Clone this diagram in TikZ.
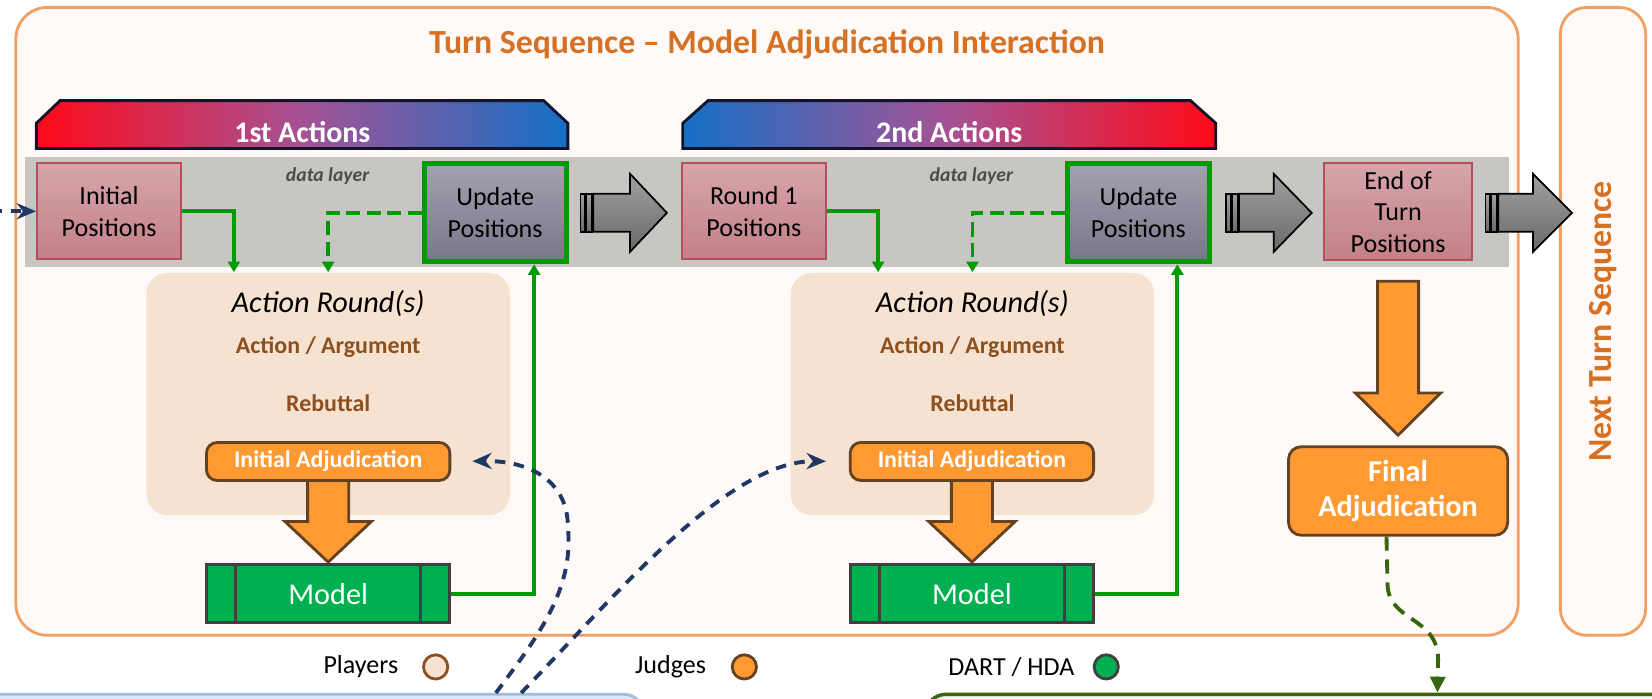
\documentclass[tikz,border=0pt]{standalone}
\usepackage{fontspec}
\setmainfont{Carlito}
\usepackage{tikz}
\usetikzlibrary{shapes,arrows,positioning,calc,arrows.meta}

\newlength{\px}
\setlength{\px}{0.010536cm}

\definecolor{frameorange}{RGB}{240,160,100}
\definecolor{framefill}{RGB}{255,250,247}
\definecolor{titleorange}{RGB}{214,112,34}
\definecolor{layergray}{RGB}{200,198,194}
\definecolor{posborder}{RGB}{184,78,92}
\definecolor{postop}{RGB}{214,165,170}
\definecolor{posbot}{RGB}{195,128,136}
\definecolor{updtop}{RGB}{163,160,175}
\definecolor{updbot}{RGB}{122,118,138}
\definecolor{linegreen}{RGB}{0,155,0}
\definecolor{modelgreen}{RGB}{0,176,80}
\definecolor{judgeorange}{RGB}{255,154,51}
\definecolor{judgeborder}{RGB}{98,66,32}
\definecolor{playerfill}{RGB}{246,226,209}
\definecolor{playerbrown}{RGB}{140,80,30}
\definecolor{hintnavy}{RGB}{31,56,100}
\definecolor{handgreen}{RGB}{56,102,14}
\definecolor{bannerred}{RGB}{255,10,25}
\definecolor{bannerblue}{RGB}{20,112,198}
\definecolor{bannermid}{RGB}{165,82,148}
\definecolor{bannerline}{RGB}{20,20,40}
\definecolor{arrowtop}{RGB}{160,160,160}
\definecolor{arrowbot}{RGB}{105,105,105}
\definecolor{lowbluefill}{RGB}{218,230,244}
\definecolor{lowblueline}{RGB}{160,190,225}
\definecolor{lowgreenfill}{RGB}{240,246,234}

\begin{document}
\begin{tikzpicture}[x=\px, y=-\px,
    turnframe/.style={draw=frameorange, line width=0.8pt, fill=framefill, rounded corners=9pt, inner sep=0pt},
    heading/.style={text=titleorange, font=\bfseries\fontsize{9.6}{11.5}\selectfont},
    banner/.style={draw=bannerline, line width=0.8pt},
    bannertext/.style={text=white, font=\bfseries\fontsize{8.5}{10}\selectfont},
    datalayer/.style={fill=layergray, minimum width=1408\px, minimum height=104\px, inner sep=0pt},
    layertext/.style={text=black!70, font=\bfseries\itshape\fontsize{5.6}{6.5}\selectfont},
    posbox/.style={draw=posborder, line width=0.5pt, top color=postop, bottom color=posbot, minimum width=137\px, minimum height=91\px, inner sep=0pt, align=center, font=\fontsize{7.4}{9}\selectfont},
    updbox/.style={draw=linegreen, line width=1.4pt, top color=updtop, bottom color=updbot, minimum width=135\px, minimum height=93\px, inner sep=0pt, align=center, font=\fontsize{7.4}{9}\selectfont},
    blockarrow/.style={draw=black, line width=0.5pt, top color=arrowtop, bottom color=arrowbot},
    roundbox/.style={fill=playerfill, rounded corners=6pt, minimum width=345\px, minimum height=230\px, inner sep=0pt},
    roundtitle/.style={font=\itshape\fontsize{8.6}{10}\selectfont},
    playertext/.style={text=playerbrown, font=\bfseries\fontsize{6.8}{8}\selectfont},
    judgebox/.style={draw=judgeborder, line width=0.8pt, fill=judgeorange, rounded corners=3pt, text=white, font=\bfseries\fontsize{6.8}{8}\selectfont, minimum width=231\px, minimum height=36\px, inner sep=0pt},
    judgearrow/.style={draw=judgeborder, line width=0.8pt, fill=judgeorange},
    modelbox/.style={draw=black!75, line width=0.8pt, fill=modelgreen, text=white, font=\fontsize{8.6}{10}\selectfont, minimum width=231\px, minimum height=55\px, inner sep=0pt},
    modelline/.style={draw=black!75, line width=0.8pt},
    feed/.style={draw=linegreen, line width=1.1pt, -{Triangle[length=3pt,width=3.4pt]}},
    feedback/.style={feed, dash pattern=on 4pt off 1.8pt},
    hint/.style={draw=hintnavy, line width=1.1pt, dash pattern=on 3pt off 2.4pt, -{Stealth[length=5.5pt,width=4.6pt]}},
    handoff/.style={draw=handgreen, line width=1.1pt, dash pattern=on 4pt off 2.5pt, -{Triangle[length=4.5pt,width=4.2pt]}},
    keytext/.style={font=\fontsize{7.4}{9}\selectfont},
    keydot/.style={circle, minimum size=23\px, inner sep=0pt, line width=0.8pt}
  ]
    \useasboundingbox[fill=white] (0,0) rectangle (1568,663);
    \clip (0,0) rectangle (1568,663);

    % frames
    \node[turnframe, minimum width=1426\px, minimum height=596\px] (turn) at (728,305) {};
    \node[turnframe, heading, rounded corners=7.5pt, rotate=90, minimum width=596\px, minimum height=81\px] (next) at (1521.5,305) {Next Turn Sequence};
    \node[heading] (title) at (728,42) {Turn Sequence -- Model Adjudication Interaction};

    % partly shown boxes below
    \node[draw=lowblueline, fill=lowbluefill, line width=0.8pt, rounded corners=6pt, minimum width=632\px, minimum height=82\px] (lowleft) at (296,700) {};
    \node[draw=handgreen, fill=lowgreenfill, line width=1pt, rounded corners=6pt, minimum width=724\px, minimum height=82\px] (lowright) at (1240,700) {};

    % banners
    \draw[banner, left color=bannerred, right color=bannerblue, middle color=bannermid]
      (34.5,141) -- (34.5,117) -- (57,95.5) -- (516,95.5) -- (539,117) -- (539,141) -- cycle;
    \draw[banner, left color=bannerblue, right color=bannerred, middle color=bannermid]
      (648,141) -- (648,117) -- (672,95.5) -- (1130,95.5) -- (1154,117) -- (1154,141) -- cycle;
    \node[bannertext] (first) at (287,125) {1st Actions};
    \node[bannertext] (second) at (901,125) {2nd Actions};

    % data layer
    \node[datalayer] (band) at (728,201) {};
    \node[layertext] (layer1) at (311,167) {data layer};
    \node[layertext] (layer2) at (922,167) {data layer};

    \node[posbox] (ipos) at (103.5,200.5) {Initial\\Positions};
    \node[updbox] (upd1) at (470,202) {Update\\Positions};
    \node[posbox] (r1pos) at (715.5,200.5) {Round 1\\Positions};
    \node[updbox] (upd2) at (1080.5,202) {Update\\Positions};
    \node[posbox, minimum width=140\px, minimum height=92\px] (eot) at (1327,201) {End of\\Turn\\Positions};

    \foreach \t/\h/\p in {551/598/633, 1164/1209/1245, 1410/1455/1492}{
      \draw[blockarrow] (\t,184) rectangle ++(4,36);
      \draw[blockarrow] (\t+5,184) rectangle ++(6,36);
      \draw[blockarrow] (\t+12,184) -- (\h,184) -- (\h,165) -- (\p,202) -- (\h,239) -- (\h,220) -- (\t+12,220) -- cycle;
    }

    % action rounds
    \node[roundbox] (act1) at (311.5,374) {};
    \node[roundbox] (act2) at (923,374) {};
    \node[roundtitle] (rt1) at (311.5,288) {Action Round(s)};
    \node[roundtitle] (rt2) at (923,288) {Action Round(s)};
    \node[playertext] (arg1) at (311.5,329) {Action / Argument};
    \node[playertext] (arg2) at (923,329) {Action / Argument};
    \node[playertext] (reb1) at (311.5,383) {Rebuttal};
    \node[playertext] (reb2) at (923,383) {Rebuttal};
    \node[judgebox] (ia1) at (311.5,438) {Initial Adjudication};
    \node[judgebox] (ia2) at (922.5,438) {Initial Adjudication};

    \foreach \c in {311.5, 922.5}{
      \draw[judgearrow] (\c-19.5,456) -- (\c+19.5,456) -- (\c+19.5,495) -- (\c+41,495) -- (\c,533.5) -- (\c-41,495) -- (\c-19.5,495) -- cycle;
    }

    \node[modelbox] (model1) at (311.5,563.5) {Model};
    \node[modelbox] (model2) at (922.5,563.5) {Model};
    \foreach \m in {model1, model2}{
      \draw[modelline] ($(\m.north west)+(29,0)$) -- ($(\m.south west)+(29,0)$);
      \draw[modelline] ($(\m.north east)+(-29,0)$) -- ($(\m.south east)+(-29,0)$);
    }

    % end of turn
    \draw[judgearrow] (1307.5,267) -- (1346.5,267) -- (1346.5,373) -- (1367.5,373) -- (1327,413) -- (1286.5,373) -- (1307.5,373) -- cycle;
    \node[judgebox, minimum width=208\px, minimum height=84\px, rounded corners=3.6pt, align=center, font=\bfseries\fontsize{8.6}{9.8}\selectfont] (final) at (1327,466) {Final\\Adjudication};

    % green connectors
    \draw[feed] (ipos.east) -| ($(act1.north)+(-89.5,0)$);
    \draw[feedback] (upd1.west) -| (act1.north);
    \draw[feed] (model1.east) -| ($(upd1.south)+(37,0)$);
    \draw[feed] (r1pos.east) -| ($(act2.north)+(-89.5,0)$);
    \draw[feedback] (upd2.west) -| (act2.north);
    \draw[feed] (model2.east) -| ($(upd2.south)+(37,0)$);

    % dashed hand-overs
    \coordinate (offleft) at (-8,200.5);
    \coordinate (src1) at ($(lowleft.north west)+(492,0)$);
    \coordinate (src2) at ($(lowleft.north west)+(516,0)$);
    \coordinate (fadrop) at ($(lowright.north west)+(488,0)$);
    \draw[hint] (offleft) -- (ipos.west);
    \draw[hint, shorten >=6pt] (src1) .. controls (510,605) and (545,560) .. (539,500) .. controls (539,458) and (505,437) .. (ia1.east);
    \draw[hint, shorten >=6.5pt] (src2) .. controls (580,570) and (690,437) .. (ia2.west);
    \draw[handoff] ($(final.south)+(-11,0)$) -- (1317,555) .. controls (1318,590) and (1364,585) .. (1365,625) -- (fadrop);

    % legend
    \node[keytext] (players) at (342.5,633) {Players};
    \node[keydot, draw=playerbrown, fill=playerfill] (pdot) at (413.5,633) {};
    \node[keytext] (judges) at (636.5,633) {Judges};
    \node[keydot, draw=judgeborder, fill=judgeorange] (jdot) at (706.5,633) {};
    \node[keytext] (dart) at (960,633) {DART / HDA};
    \node[keydot, draw=black!75, fill=modelgreen] (ddot) at (1050,633) {};
\end{tikzpicture}
\end{document}
